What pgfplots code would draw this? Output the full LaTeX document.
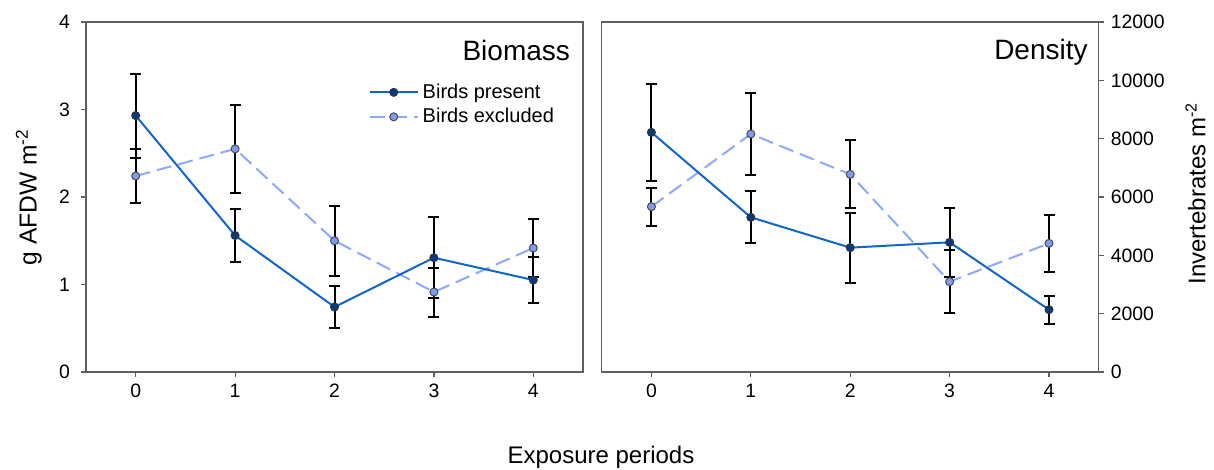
\documentclass[border=0pt]{standalone}
\usepackage{fontspec}
\setmainfont{Liberation Sans}
\usepackage{pgfplots}
\pgfplotsset{compat=1.18}
\definecolor{pres}{RGB}{16,102,204}
\definecolor{presfill}{RGB}{8,58,130}
\definecolor{excl}{RGB}{140,170,250}
\definecolor{exclfill}{RGB}{125,155,240}
\definecolor{axgray}{RGB}{95,95,95}
\pgfplotsset{
  panel/.style={
    scale only axis, width=248.5pt, height=175pt,
    xmin=-0.5, xmax=4.5, xtick={0,1,2,3,4},
    tick align=outside, major tick length=2.5pt,
    axis line style={axgray, line width=0.6pt},
    tick style={axgray, line width=0.6pt},
    xtick pos=bottom,
    tick label style={font=\fontsize{9.7}{11}\selectfont},
    /pgf/number format/assume math mode=true,
    /pgf/number format/1000 sep={},
    scaled ticks=false,
    clip=false,
    legend image code/.code={\draw[mark repeat=2,mark phase=2,##1] plot coordinates {(0pt,0pt) (12pt,0pt) (24pt,0pt)};},
  },
  presline/.style={pres, line width=1pt, mark=*, mark size=2pt,
    mark options={solid, fill=presfill, draw=black!80, line width=0.5pt},
    error bars/.cd, y dir=both, y explicit,
    error bar style={black, line width=1pt, solid},
    error mark options={rotate=90, mark size=2.75pt, black, line width=1pt, solid}},
  exclline/.style={excl, line width=1pt, dash pattern=on 7.5pt off 3.5pt, mark=*, mark size=2pt,
    mark options={solid, fill=exclfill, draw=black!70, line width=0.5pt},
    error bars/.cd, y dir=both, y explicit,
    error bar style={black, line width=1pt, solid},
    error mark options={rotate=90, mark size=2.75pt, black, line width=1pt, solid}},
}
\pgfplotstableread{
x y e
0 2.93 0.48
1 1.56 0.30
2 0.743 0.245
3 1.306 0.46
4 1.051 0.263
}\bioPres
\pgfplotstableread{
x y e
0 2.24 0.31
1 2.55 0.50
2 1.50 0.40
3 0.914 0.28
4 1.417 0.328
}\bioExcl
\pgfplotstableread{
x y e
0 8217 1657
1 5303 891
2 4263 1200
3 4446 1189
4 2137 480
}\denPres
\pgfplotstableread{
x y e
0 5668 651
1 8160 1417
2 6777 1166
3 3097 1086
4 4411 971
}\denExcl
\begin{document}
\begin{tikzpicture}
\useasboundingbox (0,0) rectangle (607pt,235pt);
\begin{axis}[panel, at={(43pt,49pt)}, anchor=south west,
  ymin=0, ymax=4, ytick={0,1,2,3,4}, ytick pos=left,
  yticklabel style={xshift=-2pt},
  ylabel={g AFDW m\textsuperscript{-2}},
  ylabel style={font=\fontsize{12.3}{14}\selectfont, at={(axis description cs:-0.115,0.5)}, anchor=center},
  reverse legend,
  legend style={draw=none, fill=none, at={(rel axis cs:0.556,0.848)}, anchor=north west,
    font=\fontsize{10}{12}\selectfont, row sep=-0.5pt, legend cell align=left},
]
\addplot[exclline] table[x=x, y=y, y error=e] {\bioExcl};
\addlegendentry{Birds excluded}
\addplot[presline] table[x=x, y=y, y error=e] {\bioPres};
\addlegendentry{Birds present}
\node[anchor=north east, font=\fontsize{14}{16}\selectfont] at (rel axis cs:1,1) [xshift=-3pt, yshift=-5.5pt] {Biomass};
\end{axis}
\begin{axis}[panel, at={(300.85pt,49pt)}, anchor=south west,
  ymin=0, ymax=12000, ytick={0,2000,4000,6000,8000,10000,12000}, ytick pos=right, yticklabel pos=right,
  ylabel={Invertebrates m\textsuperscript{-2}},
  ylabel style={font=\fontsize{12}{14}\selectfont, at={(axis description cs:1.195,0.51)}, anchor=center, rotate=0},
]
\addplot[exclline] table[x=x, y=y, y error=e] {\denExcl};
\addplot[presline] table[x=x, y=y, y error=e] {\denPres};
\node[anchor=north east, font=\fontsize{14}{16}\selectfont] at (rel axis cs:1,1) [xshift=-2pt, yshift=-5pt] {Density};
\end{axis}
\node[font=\fontsize{12}{14}\selectfont] at (300.5pt,6.5pt) {Exposure periods};
\end{tikzpicture}
\end{document}
